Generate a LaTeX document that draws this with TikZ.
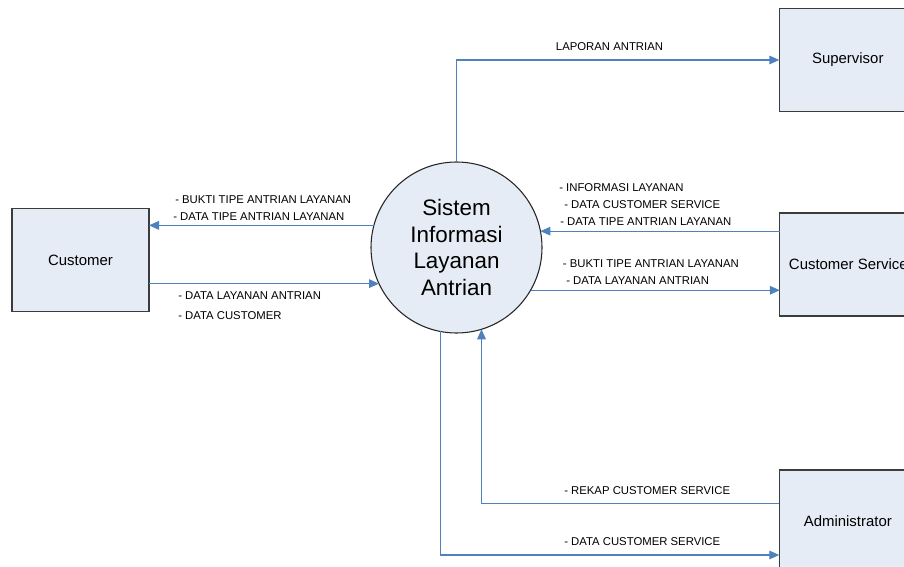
\documentclass[tikz,border=0pt]{standalone}
\usepackage{fontspec}
\setmainfont{Liberation Sans}
\usetikzlibrary{arrows.meta}
\definecolor{flowblue}{RGB}{79,129,189}
\definecolor{boxfill}{RGB}{230,236,246}
\definecolor{boxline}{RGB}{60,60,60}
\tikzset{
  entity/.style={draw=boxline, line width=0.8pt, fill=boxfill, minimum width=102.75pt, minimum height=77.25pt, inner sep=0pt, outer sep=0pt, font=\fontsize{11.2}{13}\selectfont},
  proc/.style={circle, draw=black!85, line width=0.8pt, fill=boxfill, minimum size=128.25pt, inner sep=0pt, outer sep=0pt, align=center, font=\fontsize{16.8}{20}\selectfont},
  flow/.style={draw=flowblue, line width=0.8pt, -{Triangle[length=7.5pt,width=6.5pt]}},
  lbl/.style={anchor=west, inner sep=0pt, font=\fontsize{8.5}{10}\selectfont}
}
\begin{document}
\begin{tikzpicture}[x=0.75pt, y=-0.75pt]
\useasboundingbox (0,0) rectangle (904,567);
\clip (0,0) rectangle (904,567);
% nodes
\node[proc] (sys) at (456.5,247.5) {Sistem\\Informasi\\Layanan\\Antrian};
\node[entity] (cust) at (80.5,260) {Customer};
\node[entity] (sup) at (847.8,60) {Supervisor};
\node[entity] (cs) at (848.3,264.5) {Customer Service};
\node[entity] (admin) at (847.8,521.5) {Administrator};
\coordinate (admlow) at (0,555);
\coordinate (admhigh) at (0,503.3);
% connectors
\draw[flow] (sys.165.8) -- (sys.165.8 -| cust.east);
\draw[flow] (cust.east |- sys.205.6) -- (sys.205.6);
\draw[flow] (sys.north) |- (sup.west);
\draw[flow] (cs.west |- sys.11.1) -- (sys.11.1);
\draw[flow] (sys.-30.3) -- (sys.-30.3 -| cs.west);
\draw[flow] (sys.259.6) |- (admin.west |- admlow);
\draw[flow] (admin.west |- admhigh) -| (sys.287.4);
% labels
\node[lbl] (l1) at (175,200) {- BUKTI TIPE ANTRIAN LAYANAN};
\node[lbl] (l2) at (173,217) {- DATA TIPE ANTRIAN LAYANAN};
\node[lbl] (l3) at (178,296) {- DATA LAYANAN ANTRIAN};
\node[lbl] (l4) at (178,316) {- DATA CUSTOMER};
\node[lbl] (l5) at (555.7,46.7) {LAPORAN ANTRIAN};
\node[lbl] (l6) at (559,187.7) {- INFORMASI LAYANAN};
\node[lbl] (l7) at (564,205) {- DATA CUSTOMER SERVICE};
\node[lbl] (l8) at (560,221.7) {- DATA TIPE ANTRIAN LAYANAN};
\node[lbl] (l9) at (562.7,264) {- BUKTI TIPE ANTRIAN LAYANAN};
\node[lbl] (l10) at (566,280.7) {- DATA LAYANAN ANTRIAN};
\node[lbl] (l11) at (564,490.7) {- REKAP CUSTOMER SERVICE};
\node[lbl] (l12) at (564,541.7) {- DATA CUSTOMER SERVICE};
\end{tikzpicture}
\end{document}
